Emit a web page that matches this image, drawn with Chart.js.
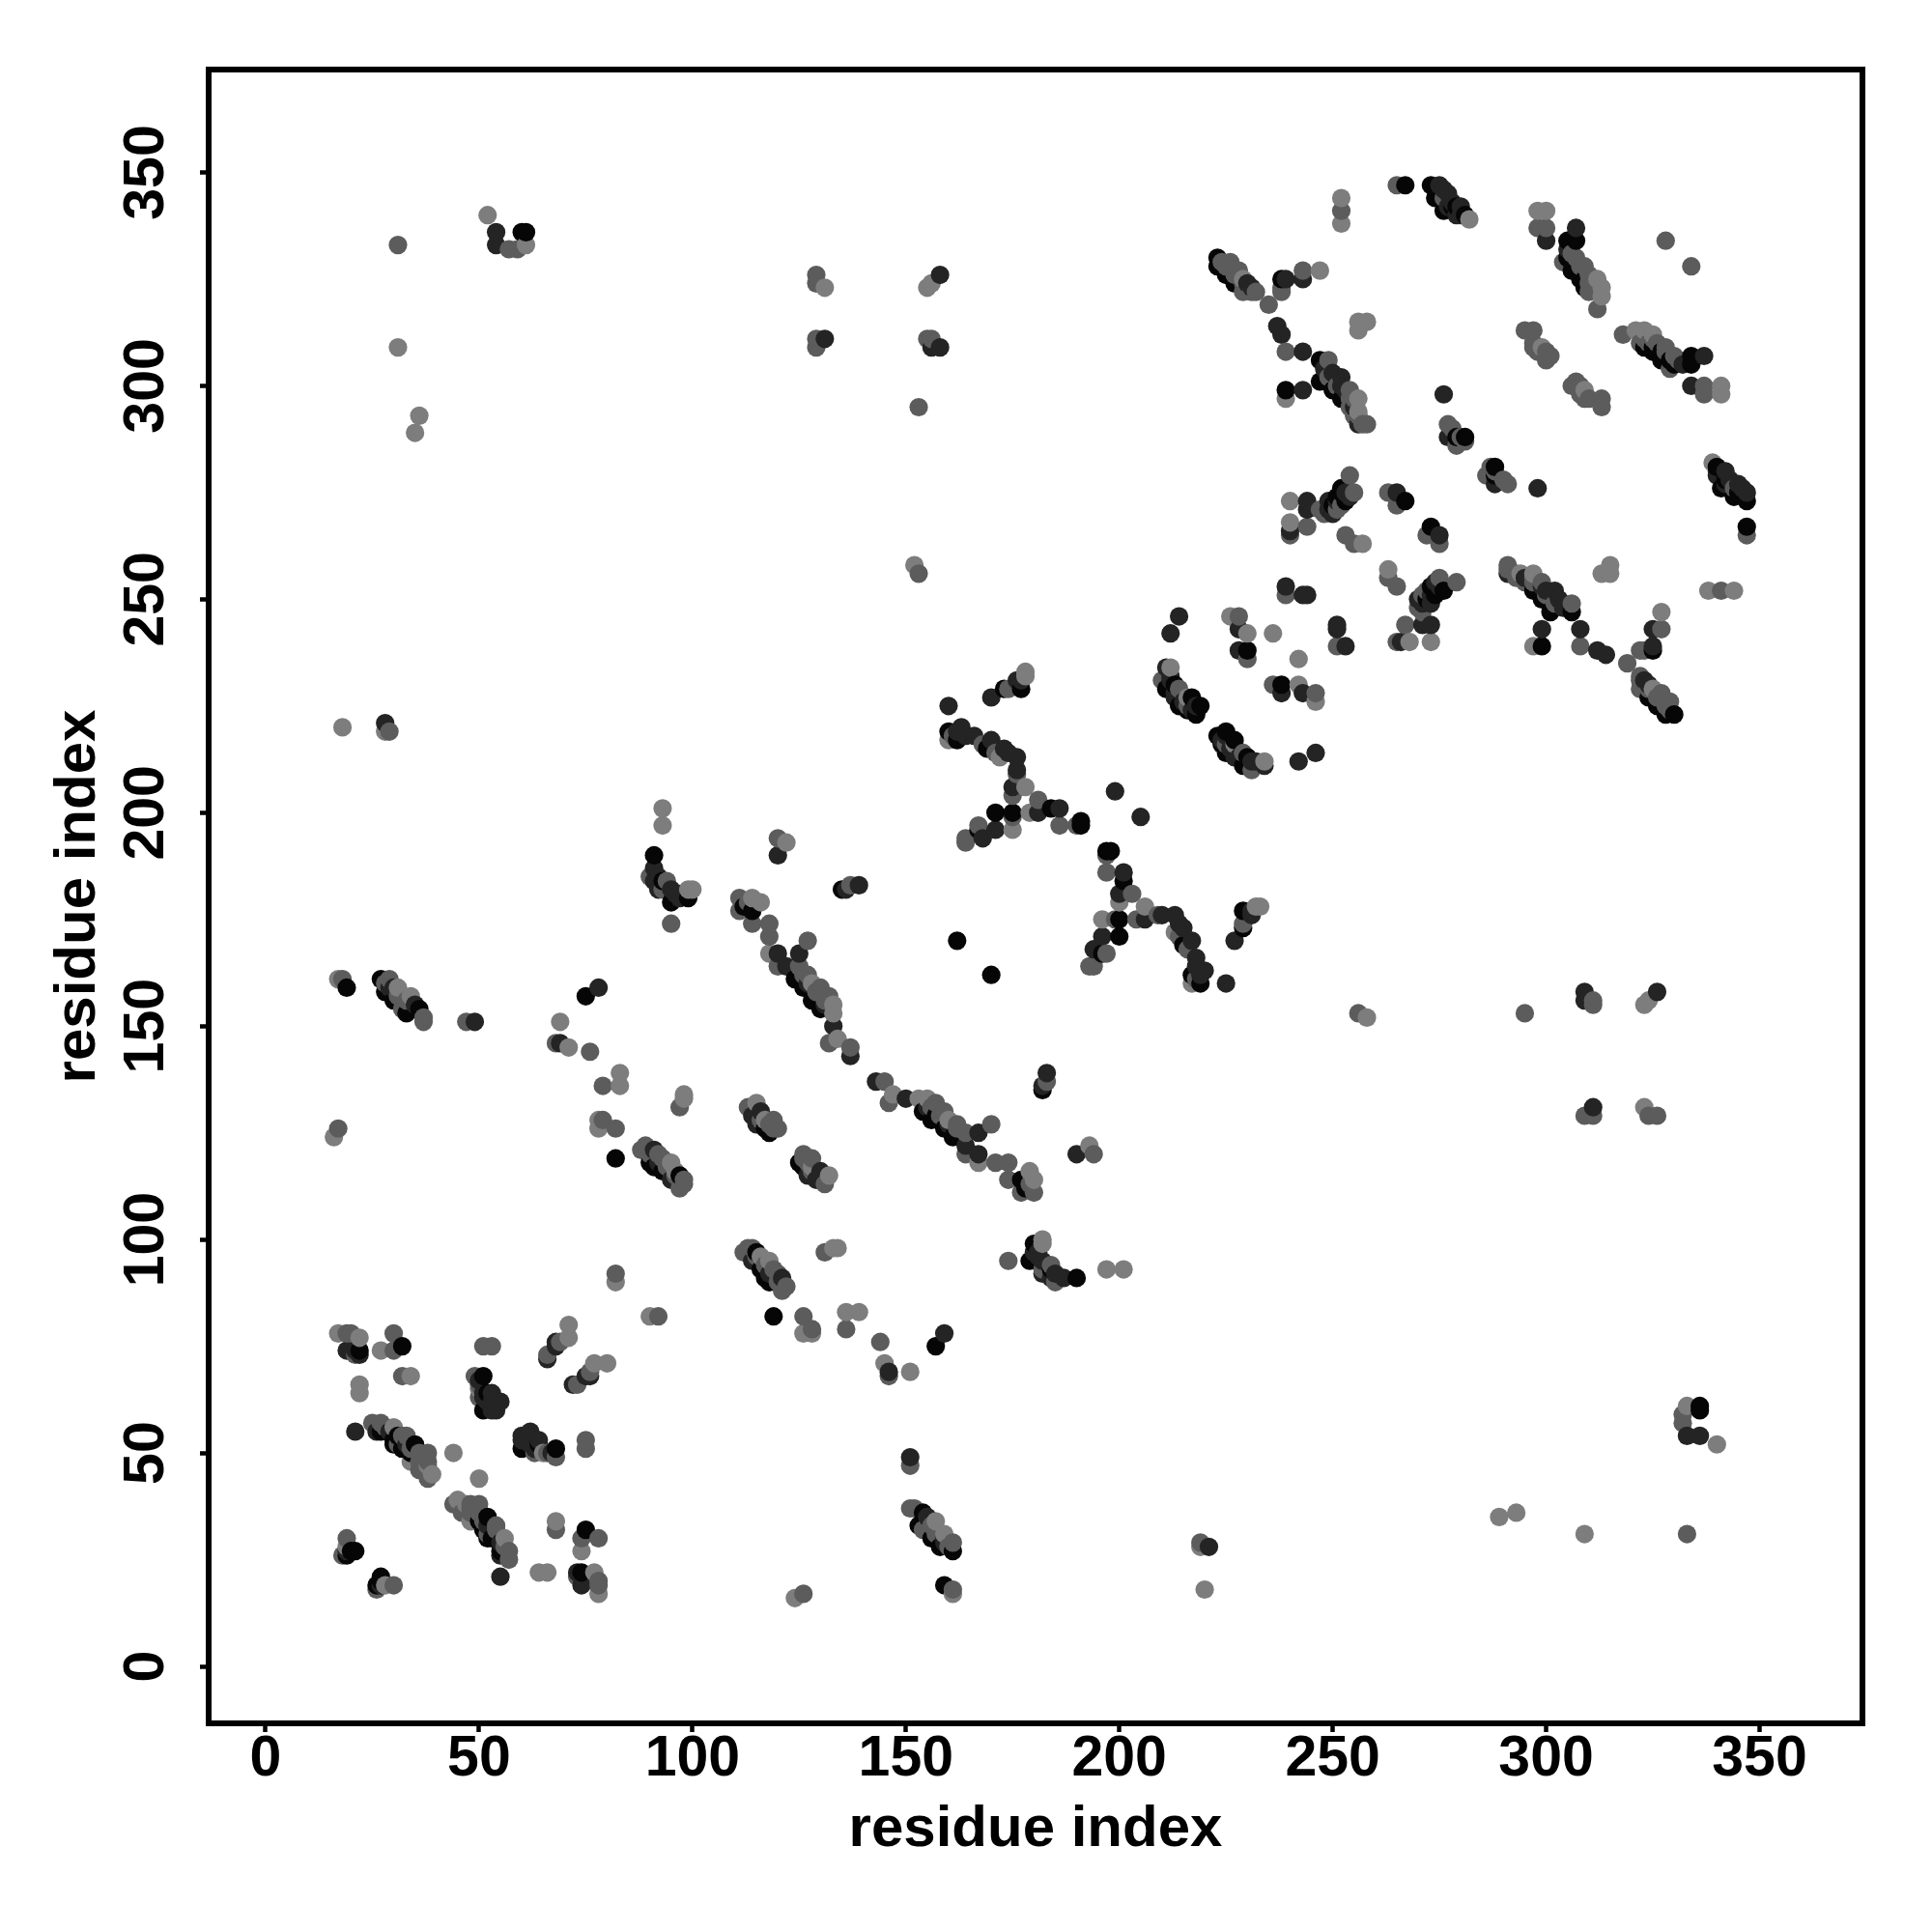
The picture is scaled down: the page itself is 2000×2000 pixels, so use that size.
<!DOCTYPE html>
<html>
<head>
<meta charset="utf-8">
<title>residue contacts</title>
<script src="https://cdn.jsdelivr.net/npm/chart.js@4"></script>
<style>
body { margin: 0; background: #fff; }
</style>
</head>
<body>
<canvas id="contacts" width="2000" height="2000"></canvas>
<script>
// contact map is symmetric, so only the i < j half is listed. mirrored further down
var tickValues = [0, 50, 100, 150, 200, 250, 300, 350];
var axisLabel = 'residue index';

var strongI = [19, 20, 21, 22, 32, 27, 30, 30, 32, 34, 35, 51, 52, 51, 19, 27, 28, 30, 36, 75, 82, 90, 91, 93, 97, 118,
    91, 93, 99, 95, 135, 112, 114, 124, 126, 128, 130, 60, 61, 173, 177, 160, 162, 169, 184, 191, 191, 171, 175, 167, 162,
    211, 217, 219, 216, 214, 218, 252, 253, 250, 252, 267, 223, 223, 225, 227, 247, 247, 239, 250, 252, 267, 273, 274, 276,
    278, 281, 279, 281, 305, 307, 305, 306, 308, 309, 230, 238,
    33, 31, 117, 129, 306, 308, 309, 275, 279, 213, 251];
var strongJ = [26, 27, 27, 74, 75, 55, 53, 52, 51, 50, 52, 68, 64, 60, 159, 161, 158, 156, 154, 157, 119, 118, 117, 116, 115, 125,
    190, 184, 180, 179, 182, 178, 177, 161, 159, 156, 154, 336, 336, 229, 229, 219, 217, 215, 201, 198, 197, 200, 200, 196, 170,
    229, 227, 225, 224, 225, 223, 275, 273, 272, 276, 273, 330, 328, 326, 324, 306, 301, 299, 299, 297, 347, 347, 344, 341,
    342, 340, 288, 288, 334, 334, 330, 327, 325, 323, 238, 325,
    153, 54, 126, 157, 329, 327, 325, 345, 342, 230, 274];

var highI = [19, 19, 21, 22, 21, 26, 53, 53, 55, 54, 68, 68, 66, 29, 49, 69, 78, 91, 95, 116, 115, 91, 91, 92, 96, 97, 120, 136, 139,
    120, 122, 125, 133, 137, 28, 54, 54, 131, 158, 156, 158, 160, 170, 176, 177, 162, 163, 166, 170, 173, 176, 176, 175, 181, 186,
    171, 168, 199, 211, 212, 213, 212, 214, 228, 228, 239, 243, 244, 240, 244, 244, 249, 249, 265, 230, 237, 238, 243, 243, 252,
    243, 239, 256, 275, 277, 280, 279, 276, 277, 300, 307,
    231, 30, 35, 92, 114, 127, 131, 305, 276, 278, 277, 280, 248, 250, 252, 253, 255, 212, 213, 215, 218, 217, 164, 174,
    92, 95, 97, 251, 253, 254, 250, 29, 33, 50, 51, 52, 53, 51];
var highJ = [27, 74, 74, 73, 55, 55, 64, 62, 62, 60, 75, 76, 72, 159, 151, 146, 159, 121, 114, 130, 127, 187, 184, 182, 181, 181, 190, 182, 183,
    167, 164, 167, 150, 143, 221, 336, 333, 311, 326, 309, 309, 225, 227, 231, 231, 219, 220, 218, 217, 215, 213, 210, 206, 200, 201,
    196, 194, 205, 234, 231, 228, 242, 246, 243, 238, 253, 251, 251, 266, 273, 271, 273, 271, 275, 324, 314, 312, 308, 299, 302,
    325, 325, 291, 347, 345, 342, 340, 298, 288, 334, 337,
    323, 159, 155, 118, 129, 160, 155, 332, 346, 343, 342, 340, 304, 303, 300, 299, 295, 232, 227, 226, 225, 224, 218, 214,
    185, 182, 180, 273, 275, 274, 270, 55, 52, 67, 64, 62, 60, 63];

var mediumI = [18, 19, 19, 20, 21, 30, 30, 32, 25, 27, 28, 32, 33, 36, 38, 38, 38, 49, 50, 51, 53, 66, 69, 82, 18, 29, 32, 37, 37, 47,
    68, 76, 79, 79, 82, 17, 97, 89, 88, 92, 98, 97, 113, 119, 120, 90, 94, 95, 120, 137, 111, 111, 114, 118, 118, 120, 127, 125, 127,
    130, 132, 132, 137, 31, 29, 57, 59, 129, 129, 129, 129, 155, 156, 153, 153, 174, 176, 175, 181, 186, 190, 175, 167, 164, 164,
    210, 214, 228, 230, 239, 240, 244, 248, 247, 251, 254, 255, 253, 255, 263, 265, 226, 228, 229, 231, 232, 235, 239, 249, 254,
    258, 257, 243, 238, 238, 252, 265, 276, 277, 278, 280, 279, 281, 298, 300, 304, 307, 309, 310, 312, 310, 328, 295, 297, 297,
    297, 298, 300, 301, 300,
    224, 225, 227, 229, 28, 31, 33, 90, 93, 94, 96, 98, 116, 118, 119, 126, 129, 131, 113, 306, 308, 311, 311, 310,
    249, 251, 254, 255, 255, 254, 256, 216, 161, 168, 171, 93, 252, 31, 34, 36, 37, 37, 36, 50];
var mediumJ = [26, 30, 78, 78, 73, 78, 74, 68, 57, 57, 56, 54, 54, 48, 50, 48, 44, 68, 63, 75, 75, 73, 76, 92, 161, 161, 154, 152, 151, 151,
    146, 144, 136, 128, 126, 126, 131, 122, 121, 120, 113, 112, 131, 128, 126, 185, 184, 174, 194, 183, 180, 177, 174, 174, 171, 164, 170, 164, 162,
    159, 157, 146, 145, 333, 219, 332, 332, 326, 324, 309, 311, 311, 311, 295, 256, 229, 209, 204, 203, 197, 197, 199, 197, 193, 194,
    231, 229, 246, 236, 251, 265, 267, 270, 271, 271, 279, 275, 265, 263, 275, 272, 329, 327, 322, 322, 322, 319, 308, 306, 299,
    291, 291, 327, 323, 322, 341, 347, 344, 291, 290, 288, 286, 287, 337, 337, 329, 330, 328, 326, 318, 322, 334, 313, 313, 310,
    309, 308, 308, 307, 306,
    329, 328, 326, 324, 160, 157, 156, 120, 119, 117, 115, 114, 128, 127, 126, 162, 158, 156, 179, 331, 328, 325, 323, 324,
    302, 300, 297, 297, 293, 295, 293, 225, 218, 216, 214, 182, 272, 52, 51, 50, 49, 48, 46, 66];

var weakI = [19, 17, 22, 27, 34, 22, 22, 30, 34, 38, 39, 44, 50, 71, 71, 82, 17, 31, 34, 69, 71, 83, 83, 78, 78, 16, 98, 98, 95, 115, 117,
    93, 93, 100, 99, 122, 114, 116, 118, 128, 133, 133, 134, 31, 36, 35, 18, 28, 52, 61, 131, 155, 156, 152, 178, 178, 160, 172,
    178, 179, 175, 212, 216, 226, 230, 236, 240, 240, 257, 229, 239, 247, 256, 256, 252, 252, 282, 256, 258, 256, 298, 300, 312,
    313, 313, 299, 96];
var weakJ = [28, 78, 77, 74, 68, 66, 64, 56, 48, 47, 45, 50, 65, 80, 77, 90, 161, 159, 157, 151, 145, 139, 136, 128, 126, 124, 134, 133, 118, 132, 128,
    197, 201, 182, 182, 193, 180, 179, 167, 160, 155, 153, 147, 309, 293, 289, 220, 219, 340, 333, 323, 323, 324, 258, 232, 233, 217, 213,
    206, 200, 196, 234, 227, 246, 242, 242, 268, 273, 263, 325, 297, 327, 297, 294, 344, 338, 339, 315, 315, 313, 341, 341, 325,
    323, 321, 309, 116];

var contacts = [];

function addBand(is, js, score) {
    for (var k = 0; k < is.length; k++) {
        contacts.push({ x: is[k], y: js[k], score: score });
        contacts.push({ x: js[k], y: is[k], score: score });
    }
}

addBand(strongI, strongJ, 0.95);
addBand(highI, highJ, 0.72);
addBand(mediumI, mediumJ, 0.28);
addBand(weakI, weakJ, 0.02);

// later residues sit on top, like in the original plot
contacts.sort(function(a, b) {
    return a.x - b.x || a.y - b.y;
});

function shade(score) {
    var g = Math.round(128 * (1 - score));
    return 'rgb(' + g + ',' + g + ',' + g + ')';
}

var boxPlugin = {
    id: 'box',
    afterDraw: function(chart) {
        var a = chart.chartArea;
        var ctx = chart.ctx;
        ctx.save();
        ctx.strokeStyle = '#000';
        ctx.lineWidth = 6;
        ctx.strokeRect(a.left, a.top, a.right - a.left, a.bottom - a.top);
        ctx.restore();
    }
};

var tickFont = { family: '"Liberation Sans"', size: 59, weight: 'bold' };
var titleFont = { family: '"Liberation Sans"', size: 60, weight: 'bold' };

var ctx = document.getElementById('contacts').getContext('2d');
var myChart = new Chart(ctx, {
    type: 'scatter',
    data: {
        datasets: [{
            data: contacts,
            backgroundColor: contacts.map(function(c) { return shade(c.score); }),
            borderWidth: 0,
            pointRadius: 9.6,
            pointHoverRadius: 9.6
        }]
    },
    options: {
        responsive: false,
        animation: false,
        events: [],
        layout: { padding: { top: 72, right: 72, left: 0, bottom: 0 } },
        plugins: {
            legend: { display: false },
            tooltip: { enabled: false }
        },
        scales: {
            x: {
                min: -13.35,
                max: 374.1,
                afterFit: function(scale) { scale.height = 216; },
                afterBuildTicks: function(scale) {
                    scale.ticks = tickValues.map(function(v) { return { value: v }; });
                },
                border: { display: false },
                grid: { drawOnChartArea: false, tickLength: 9, tickWidth: 4.5, tickColor: '#000' },
                ticks: { color: '#000', font: tickFont, padding: -7, maxRotation: 0, autoSkip: false },
                title: { display: true, text: axisLabel, color: '#000', font: titleFont, padding: { top: 6, bottom: 70 } }
            },
            y: {
                min: -13.35,
                max: 374.1,
                afterFit: function(scale) { scale.width = 216; },
                afterBuildTicks: function(scale) {
                    scale.ticks = tickValues.map(function(v) { return { value: v }; });
                },
                border: { display: false },
                grid: { drawOnChartArea: false, tickLength: 9, tickWidth: 4.5, tickColor: '#000' },
                ticks: { color: '#000', font: tickFont, padding: 5, minRotation: 90, maxRotation: 90, crossAlign: 'center', autoSkip: false },
                title: { display: true, text: axisLabel, color: '#000', font: titleFont, padding: { top: 45, bottom: 0 } }
            }
        }
    },
    plugins: [boxPlugin]
});
</script>
</body>
</html>
